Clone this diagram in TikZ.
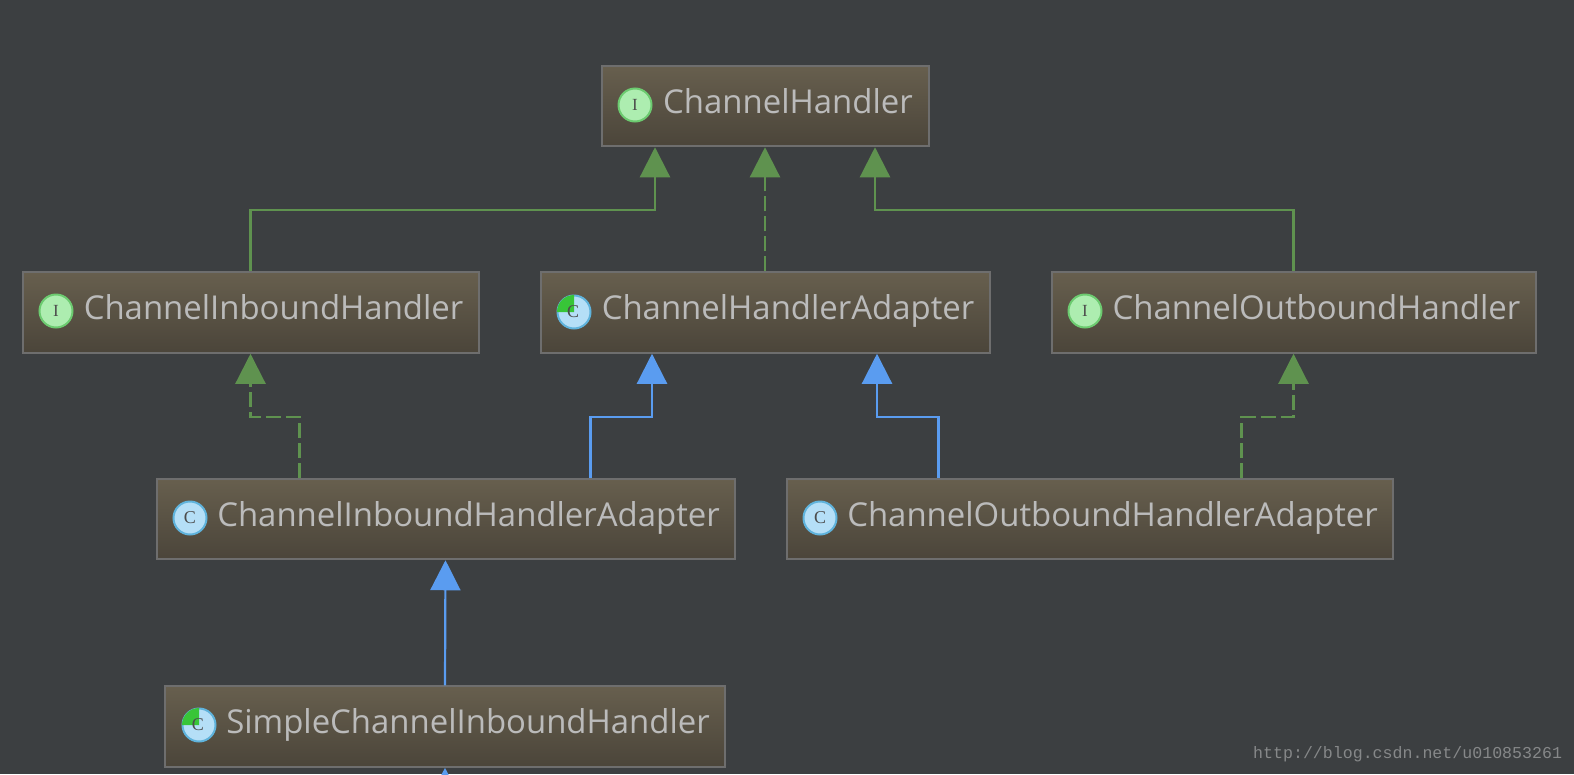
\documentclass[tikz,border=0pt]{standalone}
\usepackage{fontspec}
\setmainfont{Open Sans}
\newfontfamily\markfont{Liberation Mono}
\newfontfamily\iconfont{Liberation Serif}
\usetikzlibrary{arrows.meta}
\definecolor{bg}{HTML}{3C3F41}
\definecolor{boxtop}{HTML}{675F4E}
\definecolor{boxbot}{HTML}{4B453A}
\definecolor{boxedge}{HTML}{6E6E6E}
\definecolor{lbl}{HTML}{BBBBBB}
\definecolor{greenl}{HTML}{5F924F}
\definecolor{bluel}{HTML}{5A9CF0}
\definecolor{iface}{HTML}{ADEDB0}
\definecolor{ifaceedge}{HTML}{6CCB70}
\definecolor{cls}{HTML}{B5DFF7}
\definecolor{clsedge}{HTML}{5FB3DC}
\definecolor{wedge}{HTML}{38C538}
\tikzset{
  x=1pt,y=-1pt,
  umlbox/.style={draw=boxedge,line width=2pt,top color=boxtop,bottom color=boxbot,
    minimum height=80.5pt,inner xsep=0pt,inner ysep=0pt,text=lbl,
    font=\fontsize{32.9pt}{36pt}\selectfont,text height=24pt,text depth=10pt,anchor=center},
  ifaceicon/.style={circle,draw=ifaceedge,fill=iface,line width=2pt,minimum size=33pt,inner sep=0pt,
    text=black!70,font=\iconfont\fontsize{17pt}{17pt}\selectfont},
  clsicon/.style={circle,draw=clsedge,fill=cls,line width=2pt,minimum size=33pt,inner sep=0pt,
    text=black!70,font=\iconfont\fontsize{18pt}{18pt}\selectfont},
  clsmark/.style={text=black!70,inner sep=0pt,font=\iconfont\fontsize{18pt}{18pt}\selectfont},
  extends/.style={draw=bluel,line width=2.2pt,-{Triangle[length=30pt,width=30pt,fill=bluel]}},
  implements/.style={draw=greenl,line width=2.2pt,-{Triangle[length=30pt,width=30pt,fill=greenl]}},
  implsolid/.style={implements},
  impldash/.style={implements,dash pattern=on 15pt off 5pt},
}
\begin{document}
\begin{tikzpicture}
\path[fill=bg] (0,0) rectangle (1574,774);
\useasboundingbox (0,0) rectangle (1574,774);
\clip (0,0) rectangle (1574,774);

% boxes: the hspace leaves room for the icon
\node[umlbox,minimum width=327pt] (ch) at (765,106) {\hspace*{46pt}ChannelHandler};
\node[umlbox,minimum width=456pt] (ib) at (250.5,312.5) {\hspace*{46pt}ChannelInboundHandler};
\node[umlbox,minimum width=449pt] (ad) at (765,312.5) {\hspace*{46pt}ChannelHandlerAdapter};
\node[umlbox,minimum width=484pt] (ob) at (1293.5,312.5) {\hspace*{46pt}ChannelOutboundHandler};
\node[umlbox,minimum width=578pt] (iba) at (445.5,519) {\hspace*{46pt}ChannelInboundHandlerAdapter};
\node[umlbox,minimum width=606pt] (oba) at (1089.5,519) {\hspace*{46pt}ChannelOutboundHandlerAdapter};
\node[umlbox,minimum width=560pt] (sc) at (445,726.5) {\hspace*{46pt}SimpleChannelInboundHandler};

% icons
\node[ifaceicon] (ich) at (635,105) {I};
\node[ifaceicon] (iib) at (56,311) {I};
\node[ifaceicon] (iob) at (1085,311) {I};
\node[clsicon] (iiba) at (190,518) {C};
\node[clsicon] (ioba) at (820,518) {C};
\node[clsicon,text opacity=0] (iad) at (574,312) {C};
\fill[wedge] (iad.center) -- ++(-17,0) arc[start angle=180,end angle=270,radius=17] -- cycle;
\node[clsmark] (iadc) at ([xshift=-1pt]iad.center) {C};
\node[clsicon,text opacity=0] (isc) at (199,725) {C};
\fill[wedge] (isc.center) -- ++(-17,0) arc[start angle=180,end angle=270,radius=17] -- cycle;
\node[clsmark] (iscc) at ([xshift=-1pt]isc.center) {C};

% connectors
\draw[implsolid] (ib.north) -- ++(0,-61) -| ([xshift=-110pt]ch.south);
\draw[impldash] (ad.north) -- (ch.south);
\draw[implsolid] (ob.north) -- ++(0,-61) -| ([xshift=110pt]ch.south);
\draw[impldash] ([xshift=-146pt]iba.north) -- ++(0,-61) -| (ib.south);
\draw[extends] ([xshift=145pt]iba.north) -- ++(0,-61) -| ([xshift=-113pt]ad.south);
\draw[extends] ([xshift=-151pt]oba.north) -- ++(0,-61) -| ([xshift=112pt]ad.south);
\draw[impldash] ([xshift=152pt]oba.north) -- ++(0,-61) -| (ob.south);
\draw[extends] (sc.north) -- (iba.south);
\coordinate (below) at (445,810);
\draw[extends] (below) -- (sc.south);

\node[anchor=base west,inner sep=0pt,text=white!38!bg,font=\markfont\fontsize{16.6pt}{18pt}\selectfont] (mark) at (1253,758.5) {http://blog.csdn.net/u010853261};
\end{tikzpicture}
\end{document}
